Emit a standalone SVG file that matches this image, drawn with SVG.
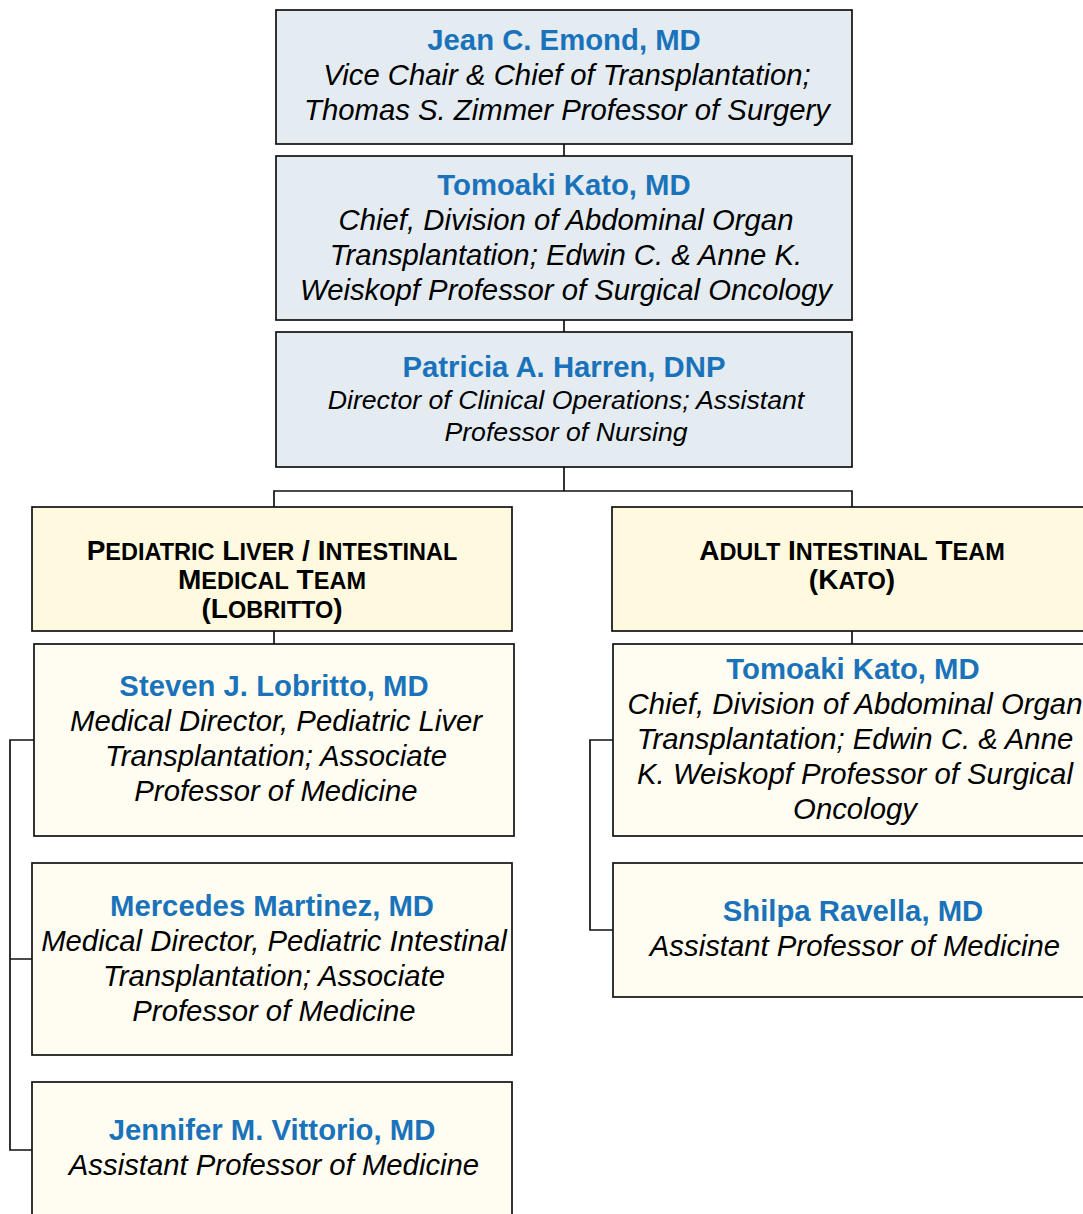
<svg xmlns="http://www.w3.org/2000/svg" width="1083" height="1214" viewBox="0 0 1083 1214">
<style>
.top{fill:#e4ecf2;stroke:#111;stroke-width:1.7}
.team{fill:#fffadf;stroke:#111;stroke-width:1.7}
.mem{fill:#fffdf1;stroke:#111;stroke-width:1.7}
.name{font-family:"Liberation Sans",Arial,sans-serif;font-weight:bold;font-size:29.3px;fill:#1a73ba;text-anchor:middle}
.det{font-family:"Liberation Sans",Arial,sans-serif;font-style:italic;font-size:29.3px;fill:#000;text-anchor:middle}
.det2{font-family:"Liberation Sans",Arial,sans-serif;font-style:italic;font-size:26.7px;fill:#000;text-anchor:middle}
.hd{font-family:"Liberation Sans",Arial,sans-serif;font-weight:bold;font-size:28px;fill:#000;text-anchor:middle}
.sc{font-size:23.5px}
.conn{fill:none;stroke:#111;stroke-width:1.7}
</style>
<g id="connectors">
<line class="conn" x1="564" y1="144" x2="564" y2="156"/>
<line class="conn" x1="564" y1="320" x2="564" y2="332"/>
<line class="conn" x1="564" y1="467" x2="564" y2="491"/>
<path class="conn" d="M274,507 V491 H852 V507"/>
<line class="conn" x1="274" y1="631" x2="274" y2="644"/>
<line class="conn" x1="852" y1="631" x2="852" y2="644"/>
<path class="conn" d="M34,740 H10 V1150 H32 M10,959 H32"/>
<path class="conn" d="M613,740 H590 V930 H613"/>
</g>
<g id="emond">
<rect class="top" x="276" y="10" width="576" height="134"/>
<text class="name" x="564" y="50">Jean C. Emond, MD</text>
<text class="det" x="567" y="85">Vice Chair &amp; Chief of Transplantation;</text>
<text class="det" x="567" y="120">Thomas S. Zimmer Professor of Surgery</text>
</g>
<g id="kato-top">
<rect class="top" x="276" y="156" width="576" height="164"/>
<text class="name" x="564" y="195">Tomoaki Kato, MD</text>
<text class="det" x="566" y="230">Chief, Division of Abdominal Organ</text>
<text class="det" x="566" y="265">Transplantation; Edwin C. &amp; Anne K.</text>
<text class="det" x="566" y="300">Weiskopf Professor of Surgical Oncology</text>
</g>
<g id="harren">
<rect class="top" x="276" y="332" width="576" height="135"/>
<text class="name" x="564" y="377">Patricia A. Harren, DNP</text>
<text class="det2" x="566" y="409">Director of Clinical Operations; Assistant</text>
<text class="det2" x="566" y="441">Professor of Nursing</text>
</g>
<g id="team-pediatric">
<rect class="team" x="32" y="507" width="480" height="124"/>
<text class="hd" x="272" y="560">P<tspan class="sc">EDIATRIC</tspan> L<tspan class="sc">IVER</tspan> / I<tspan class="sc">NTESTINAL</tspan></text>
<text class="hd" x="272" y="589">M<tspan class="sc">EDICAL</tspan> T<tspan class="sc">EAM</tspan></text>
<text class="hd" x="272" y="618">(L<tspan class="sc">OBRITTO</tspan>)</text>
</g>
<g id="team-adult">
<rect class="team" x="612" y="507" width="480" height="124"/>
<text class="hd" x="852" y="560">A<tspan class="sc">DULT</tspan> I<tspan class="sc">NTESTINAL</tspan> T<tspan class="sc">EAM</tspan></text>
<text class="hd" x="852" y="589">(K<tspan class="sc">ATO</tspan>)</text>
</g>
<g id="lobritto">
<rect class="mem" x="34" y="644" width="480" height="192"/>
<text class="name" x="274" y="696">Steven J. Lobritto, MD</text>
<text class="det" x="276" y="731">Medical Director, Pediatric Liver</text>
<text class="det" x="276" y="766">Transplantation; Associate</text>
<text class="det" x="276" y="801">Professor of Medicine</text>
</g>
<g id="martinez">
<rect class="mem" x="32" y="863" width="480" height="192"/>
<text class="name" x="272" y="916">Mercedes Martinez, MD</text>
<text class="det" x="274" y="951">Medical Director, Pediatric Intestinal</text>
<text class="det" x="274" y="986">Transplantation; Associate</text>
<text class="det" x="274" y="1021">Professor of Medicine</text>
</g>
<g id="vittorio">
<rect class="mem" x="32" y="1082" width="480" height="150"/>
<text class="name" x="272" y="1140">Jennifer M. Vittorio, MD</text>
<text class="det" x="274" y="1175">Assistant Professor of Medicine</text>
</g>
<g id="kato-member">
<rect class="mem" x="613" y="644" width="480" height="192"/>
<text class="name" x="853" y="679">Tomoaki Kato, MD</text>
<text class="det" x="855" y="714">Chief, Division of Abdominal Organ</text>
<text class="det" x="855" y="749">Transplantation; Edwin C. &amp; Anne</text>
<text class="det" x="855" y="784">K. Weiskopf Professor of Surgical</text>
<text class="det" x="855" y="819">Oncology</text>
</g>
<g id="ravella">
<rect class="mem" x="613" y="863" width="480" height="134"/>
<text class="name" x="853" y="921">Shilpa Ravella, MD</text>
<text class="det" x="855" y="956">Assistant Professor of Medicine</text>
</g>
</svg>
